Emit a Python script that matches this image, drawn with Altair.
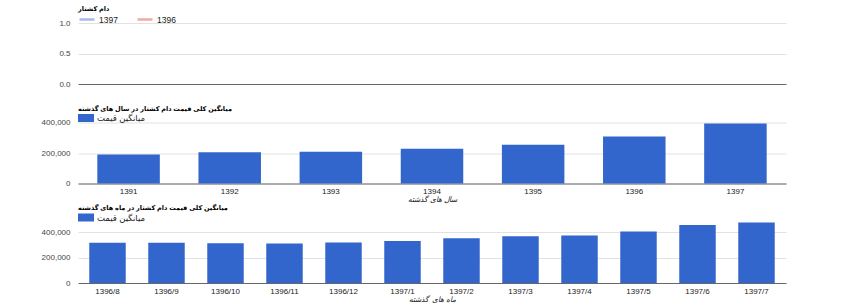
import altair as alt
import pandas as pd

# ---- data ----
compare_series = ["1397", "1396"]
compare_colors = ["#a4bbe9", "#f2a9a5"]
compare_title = "دام کشتار"

year_title = "میانگین کلی قیمت دام کشتار در سال های گذشته"
years = ["1391", "1392", "1393", "1394", "1395", "1396", "1397"]
year_avg = [190000, 205000, 208000, 228000, 254000, 308000, 393000]

month_title = "میانگین کلی قیمت دام کشتار در ماه های گذشته"
months = ["1396/8", "1396/9", "1396/10", "1396/11", "1396/12", "1397/1",
          "1397/2", "1397/3", "1397/4", "1397/5", "1397/6", "1397/7"]
month_avg = [317000, 317000, 312000, 310000, 319000, 330000,
             353000, 367000, 374000, 406000, 456000, 477000]

series_label = "میانگین قیمت"
year_axis_title = "سال های گذشته"
month_axis_title = "ماه های گذشته"

FONT = "Liberation Sans, Arial, DejaVu Sans, sans-serif"
BLUE = "#3366cc"
W = 708
H = 61

def y_axis(values, fmt):
    return alt.Axis(values=values, format=fmt, domain=False, ticks=False,
                    gridColor="#e2e2e2", labelColor="#444", labelFontSize=8,
                    labelPadding=8, title=None, minExtent=60, maxExtent=60,
                    labelFont=FONT)

def legend(title, **kw):
    return alt.Legend(title=title, orient="none", legendX=0, legendY=-17,
                      direction="horizontal", titleFontSize=6.5,
                      titleFontWeight="bold", titleFont=FONT, titleColor="#000",
                      titlePadding=-2, labelFontSize=8.5, labelFont=FONT,
                      labelColor="#222", labelOffset=3, columnPadding=14,
                      **kw)

# ---- panel 1: empty comparison chart ----
df1 = pd.DataFrame({"series": compare_series,
                    "x": [None] * len(compare_series),
                    "value": [None] * len(compare_series)})
p1 = alt.Chart(df1).mark_line().encode(
    x=alt.X("x:Q", scale=alt.Scale(domain=[0, 1]),
            axis=alt.Axis(labels=False, ticks=False, grid=False, title=None,
                          domainColor="#666")),
    y=alt.Y("value:Q", scale=alt.Scale(domain=[0, 1], nice=False),
            axis=y_axis([0, 0.5, 1], ".1f")),
    color=alt.Color("series:N",
                    scale=alt.Scale(domain=compare_series, range=compare_colors),
                    legend=legend(compare_title, symbolType="stroke",
                                  symbolSize=225, symbolStrokeWidth=2.5)),
).properties(width=W, height=H)

rect_path = "M-1,-0.5H1V0.5H-1Z"

def bar_panel(cats, vals, title, axis_title, ymax):
    df = pd.DataFrame({"cat": cats, "avg": vals, "series": [series_label] * len(cats)})
    return alt.Chart(df).mark_bar(color=BLUE).encode(
        x=alt.X("cat:N", sort=cats,
                scale=alt.Scale(paddingInner=0.382, paddingOuter=0.191),
                axis=alt.Axis(title=axis_title, labelAngle=0, ticks=False,
                              domainColor="#666", labelColor="#222",
                              labelFontSize=8, labelPadding=4, labelFont=FONT,
                              titleFontSize=7.5, titleFontWeight="normal",
                              titleFont=FONT, titleColor="#222",
                              titleFontStyle="italic", titlePadding=0)),
        y=alt.Y("avg:Q", scale=alt.Scale(domain=[0, ymax], nice=False),
                axis=y_axis([0, 200000, 400000], ",.0f")),
        color=alt.Color("series:N", scale=alt.Scale(range=[BLUE]),
                        legend=legend(title, symbolType=rect_path,
                                      symbolSize=256, symbolStrokeWidth=0,
                                      symbolOpacity=1)),
    ).properties(width=W, height=H)

p2 = bar_panel(years, year_avg, year_title, year_axis_title, 400000)
p3 = bar_panel(months, month_avg, month_title, month_axis_title, 480000)

chart = alt.vconcat(p1, p2, p3, spacing=38.5, bounds="flush").resolve_scale(
    color="independent"
).properties(
    padding={"left": 18, "top": 6, "right": 5, "bottom": 2},
    background="white",
).configure_view(stroke=None)

chart.save("out.html", embed_options={"renderer": "svg", "actions": False})
